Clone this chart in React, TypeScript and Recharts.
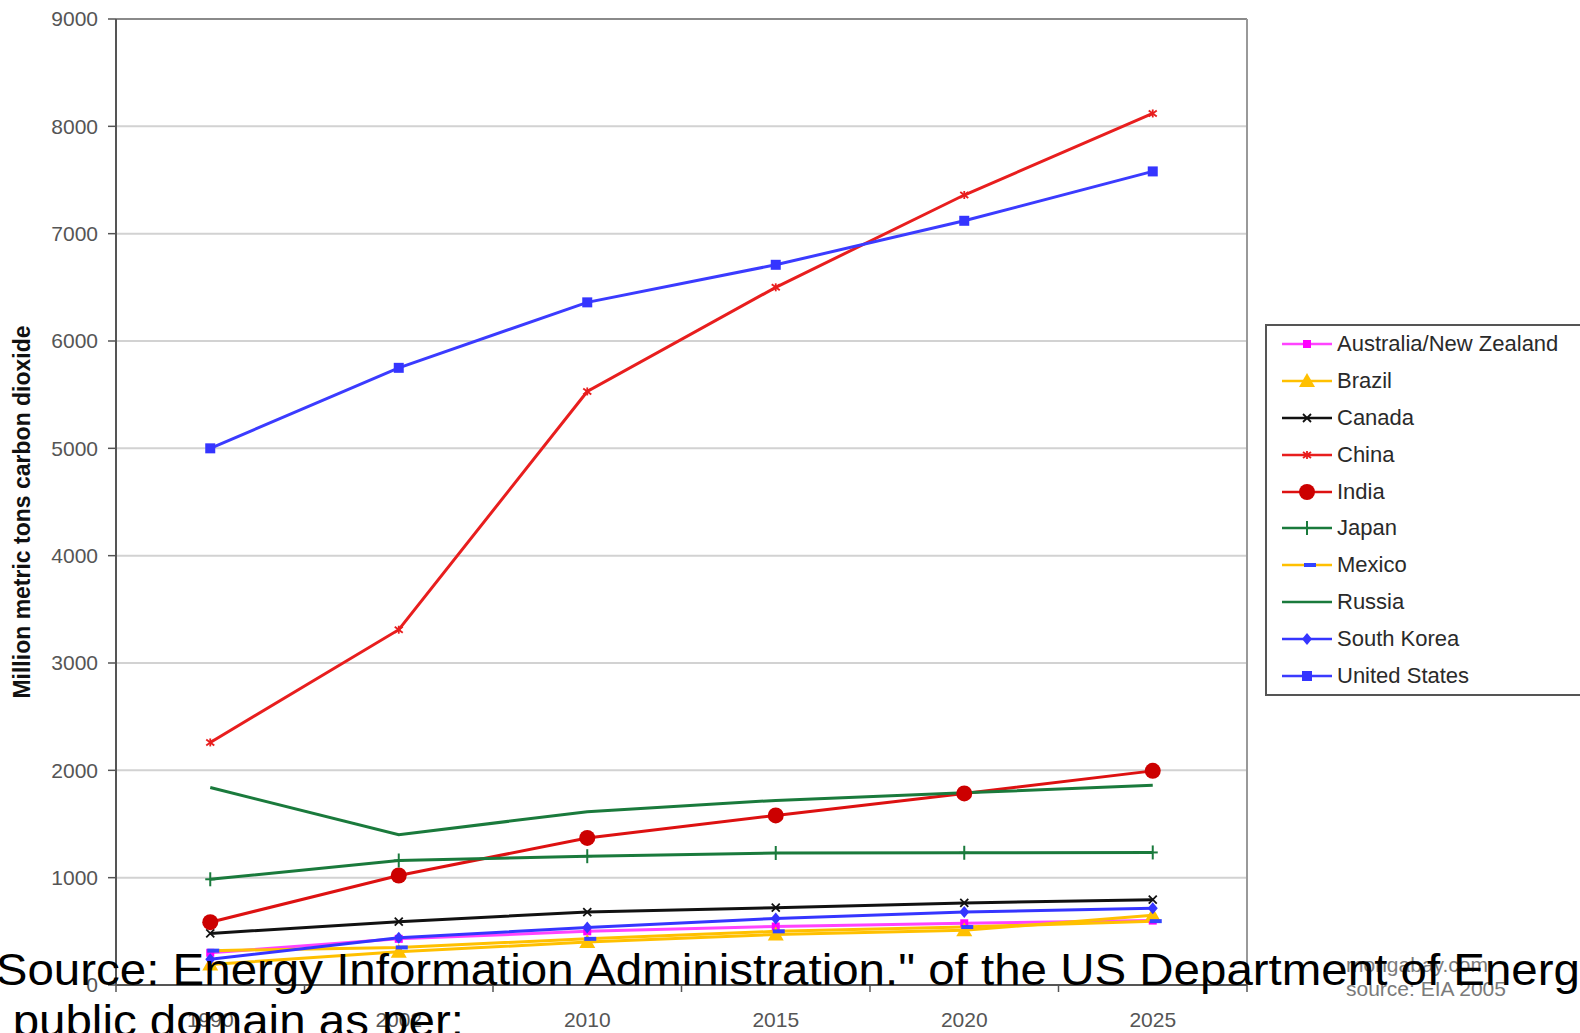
import React from "react";
import { LineChart, Line, XAxis, YAxis, CartesianGrid, ReferenceLine } from "recharts";

const years = ["1990", "2002", "2010", "2015", "2020", "2025"];
const yTicks = [0, 1000, 2000, 3000, 4000, 5000, 6000, 7000, 8000, 9000];

const australiaNZ = [300, 430, 500, 545, 575, 600];
const brazil = [190, 310, 400, 470, 510, 650];
const canada = [480, 590, 680, 720, 765, 795];
const china = [2260, 3310, 5530, 6500, 7360, 8120];
const india = [585, 1020, 1370, 1580, 1785, 1995];
const japan = [985, 1160, 1200, 1230, 1232, 1235];
const mexico = [320, 350, 430, 500, 540, 595];
const russia = [1840, 1400, 1615, 1720, 1790, 1860];
const southKorea = [240, 440, 535, 620, 680, 715];
const unitedStates = [5000, 5750, 6360, 6710, 7120, 7580];

const font = '"Liberation Sans", Arial, sans-serif';
const W = 1580;
const H = 1033;
const plotLeft = 116;
const plotRight = 1247;
const halfBand = (plotRight - plotLeft) / years.length / 2;

type Shape = "square" | "bigSquare" | "triangle" | "cross" | "star" | "circle" | "plus" | "dash" | "diamond" | "none";

const series: { key: string; name: string; values: number[]; color: string; markerColor: string; shape: Shape; width: number }[] = [
  { key: "aus", name: "Australia/New Zealand", values: australiaNZ, color: "#ff44ff", markerColor: "#ff00ff", shape: "square", width: 3 },
  { key: "bra", name: "Brazil", values: brazil, color: "#ffc000", markerColor: "#ffc000", shape: "triangle", width: 3 },
  { key: "can", name: "Canada", values: canada, color: "#111111", markerColor: "#111111", shape: "cross", width: 3 },
  { key: "chn", name: "China", values: china, color: "#e81e1e", markerColor: "#e81e1e", shape: "star", width: 3 },
  { key: "ind", name: "India", values: india, color: "#dd1111", markerColor: "#cc0000", shape: "circle", width: 3 },
  { key: "jpn", name: "Japan", values: japan, color: "#1a7a3c", markerColor: "#1a7a3c", shape: "plus", width: 3 },
  { key: "mex", name: "Mexico", values: mexico, color: "#ffc000", markerColor: "#3344ff", shape: "dash", width: 3 },
  { key: "rus", name: "Russia", values: russia, color: "#1a7a3c", markerColor: "#1a7a3c", shape: "none", width: 3 },
  { key: "kor", name: "South Korea", values: southKorea, color: "#3535ff", markerColor: "#3535ff", shape: "diamond", width: 3 },
  { key: "usa", name: "United States", values: unitedStates, color: "#3b3bff", markerColor: "#3535ff", shape: "bigSquare", width: 3 },
];

const rows = years.map((year, i) => {
  const row: Record<string, number | string> = { idx: i, year };
  series.forEach((s) => {
    row[s.key] = s.values[i];
  });
  return row;
});

function Marker({ shape, color, cx, cy }: { shape: Shape; color: string; cx: number; cy: number }) {
  switch (shape) {
    case "square":
      return <rect x={cx - 4} y={cy - 4} width={8} height={8} fill={color} />;
    case "bigSquare":
      return <rect x={cx - 5} y={cy - 5} width={10} height={10} fill={color} />;
    case "triangle":
      return <polygon points={`${cx},${cy - 8} ${cx + 8},${cy + 6} ${cx - 8},${cy + 6}`} fill={color} />;
    case "cross":
      return (
        <g stroke={color} strokeWidth={1.8}>
          <line x1={cx - 4} y1={cy - 4} x2={cx + 4} y2={cy + 4} />
          <line x1={cx - 4} y1={cy + 4} x2={cx + 4} y2={cy - 4} />
        </g>
      );
    case "star":
      return (
        <g stroke={color} strokeWidth={1.8}>
          <line x1={cx - 4} y1={cy - 3} x2={cx + 4} y2={cy + 3} />
          <line x1={cx - 4} y1={cy + 3} x2={cx + 4} y2={cy - 3} />
          <line x1={cx} y1={cy - 4} x2={cx} y2={cy + 4} />
        </g>
      );
    case "circle":
      return <circle cx={cx} cy={cy} r={8} fill={color} />;
    case "plus":
      return (
        <g stroke={color} strokeWidth={2}>
          <line x1={cx} y1={cy - 7} x2={cx} y2={cy + 7} />
          <line x1={cx - 5} y1={cy} x2={cx + 5} y2={cy} />
        </g>
      );
    case "dash":
      return <rect x={cx - 3} y={cy - 2} width={12} height={4} fill={color} />;
    case "diamond":
      return <polygon points={`${cx},${cy - 6} ${cx + 5},${cy} ${cx},${cy + 6} ${cx - 5},${cy}`} fill={color} />;
    default:
      return null;
  }
}

function YearTick(props: any) {
  const { x, y, payload } = props;
  const i = payload.value as number;
  return (
    <g>
      <line x1={x - halfBand} x2={x - halfBand} y1={y} y2={y + 7} stroke="#555" strokeWidth={1.5} />
      {i === years.length - 1 && (
        <line x1={x + halfBand} x2={x + halfBand} y1={y} y2={y + 7} stroke="#555" strokeWidth={1.5} />
      )}
      <text x={x} y={y + 42} textAnchor="middle" fill="#555" fontSize={21} fontFamily={font}>
        {years[i]}
      </text>
    </g>
  );
}

function ChartLegend() {
  return (
    <div
      style={{
        position: "absolute",
        left: 1265,
        top: 324,
        width: 340,
        border: "2px solid #555",
        background: "#fff",
        boxSizing: "border-box",
      }}
    >
      {series.map((s) => (
        <div key={s.key} style={{ display: "flex", alignItems: "center", height: 36.8 }}>
          <svg width={70} height={24} style={{ flex: "none" }}>
            <line x1={15} x2={65} y1={12} y2={12} stroke={s.color} strokeWidth={2.5} />
            <Marker shape={s.shape} color={s.markerColor} cx={40} cy={12} />
          </svg>
          <span style={{ fontSize: 22, color: "#2a2a2a", fontFamily: font, whiteSpace: "nowrap" }}>{s.name}</span>
        </div>
      ))}
    </div>
  );
}

export default function App() {
  return (
    <div style={{ position: "absolute", left: 0, top: 0, width: W, height: H, overflow: "hidden", background: "#fff" }}>
      <LineChart width={W} height={H} data={rows} margin={{ top: 19, right: W - plotRight, bottom: 8, left: 0 }}>
        <CartesianGrid vertical={false} stroke="#d2d2d2" strokeWidth={2} />
        <XAxis
          dataKey="idx"
          type="number"
          domain={[-0.5, years.length - 0.5]}
          ticks={years.map((_, i) => i)}
          interval={0}
          height={40}
          tickSize={0}
          tickMargin={0}
          tickLine={false}
          axisLine={{ stroke: "#555", strokeWidth: 2 }}
          tick={(p: any) => <YearTick key={p.index} {...p} />}
        />
        <YAxis
          type="number"
          domain={[0, 9000]}
          ticks={yTicks}
          interval={0}
          width={plotLeft}
          tickSize={8}
          tickMargin={10}
          axisLine={{ stroke: "#555", strokeWidth: 2 }}
          tickLine={{ stroke: "#555", strokeWidth: 1.5 }}
          tick={{ fill: "#555", fontSize: 21, fontFamily: font }}
          label={{
            content: () => (
              <text
                transform="translate(22,512) rotate(-90)"
                textAnchor="middle"
                dominantBaseline="central"
                fontSize={23}
                fontWeight="bold"
                fontFamily={font}
                fill="#111"
              >
                Million metric tons carbon dioxide
              </text>
            ),
          }}
        />
        <ReferenceLine y={9000} stroke="#8a8a8a" strokeWidth={2} />
        <ReferenceLine x={years.length - 0.5} stroke="#999" strokeWidth={2} />
        {series.map((s) => (
          <Line
            key={s.key}
            type="linear"
            dataKey={s.key}
            name={s.name}
            stroke={s.color}
            strokeWidth={s.width}
            isAnimationActive={false}
            activeDot={false}
            dot={(p: any) => <Marker key={`${s.key}-${p.index}`} shape={s.shape} color={s.markerColor} cx={p.cx} cy={p.cy} />}
          />
        ))}
      </LineChart>
      <ChartLegend />
      <svg width={W} height={H} style={{ position: "absolute", left: 0, top: 0, pointerEvents: "none" }}>
        <text x={1346} y={972} fontSize={21} fill="#7a7a7a" fontFamily={font}>
          mongabay.com
        </text>
        <text x={1346} y={996} fontSize={21} fill="#7a7a7a" fontFamily={font}>
          source: EIA 2005
        </text>
        <g transform="scale(1.055 1)" fontFamily={font} fontSize={45} fill="#000">
          <text x={-4} y={985}>
            Source: Energy Information Administration." of the US Department of Energy
          </text>
          <text x={12} y={1036}>
            public domain as per:
          </text>
        </g>
      </svg>
    </div>
  );
}
